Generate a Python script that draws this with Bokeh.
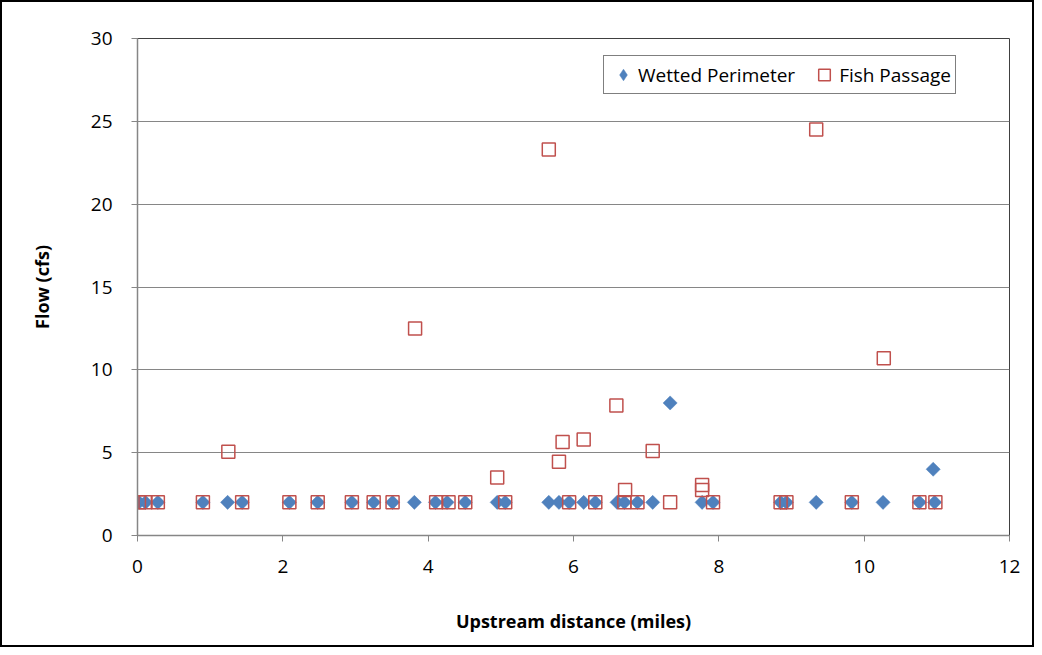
from bokeh.plotting import figure
from bokeh.models import Range1d, FixedTicker, Legend, LegendItem, ColumnDataSource
from bokeh.embed import file_html
from bokeh.resources import INLINE
import math

# Wetted Perimeter
wp_x = [0.02, 0.11, 0.28, 0.90, 1.24, 1.44, 2.09, 2.48, 2.95, 3.25, 3.51, 3.81,
        4.10, 4.26, 4.51, 4.95, 5.06, 5.66, 5.80, 5.94, 6.14, 6.30, 6.60, 6.70,
        6.88, 7.09, 7.33, 7.77, 7.92, 8.85, 8.93, 9.34, 9.83, 10.26, 10.76, 10.97, 10.95]
wp_y = [2, 2, 2, 2, 2, 2, 2, 2, 2, 2, 2, 2,
        2, 2, 2, 2, 2, 2, 2, 2, 2, 2, 2, 2,
        2, 2, 8, 2, 2, 2, 2, 2, 2, 2, 2, 2, 4]

# Fish Passage
fp_x = [0.02, 0.11, 0.28, 0.90, 1.25, 1.44, 2.09, 2.48, 2.95, 3.25, 3.51, 3.82,
        4.11, 4.28, 4.51, 4.95, 5.06, 5.66, 5.80, 5.85, 5.94, 6.14, 6.30, 6.59,
        6.70, 6.71, 6.88, 7.09, 7.33, 7.77, 7.77, 7.92, 8.85, 8.93, 9.34, 9.83,
        10.27, 10.76, 10.98]
fp_y = [2, 2, 2, 2, 5.05, 2, 2, 2, 2, 2, 2, 12.5,
        2, 2, 2, 3.5, 2, 23.3, 4.45, 5.65, 2, 5.8, 2, 7.85,
        2, 2.75, 2, 5.1, 2, 3.05, 2.75, 2, 2, 2, 24.5, 2,
        10.7, 2, 2]

x_ticks = [0, 2, 4, 6, 8, 10, 12]
y_ticks = [0, 5, 10, 15, 20, 25, 30]

FONT = "Open Sans"
GRID = "#868686"
BLUE = "#4f81bd"
RED = "#c0504d"

p = figure(width=1034, height=647, output_backend="svg", toolbar_location=None,
           x_range=Range1d(0, 12), y_range=Range1d(0, 30),
           min_border_left=135, min_border_right=27, min_border_top=36, min_border_bottom=114,
           styles={"border": "2px solid black"})

p.outline_line_color = "#404040"
p.outline_line_width = 1
p.xgrid.grid_line_color = None
p.ygrid.grid_line_color = GRID
p.ygrid.grid_line_width = 1

for ax in (p.xaxis[0], p.yaxis[0]):
    ax.axis_line_color = GRID
    ax.axis_line_width = 1.5
    ax.major_tick_line_color = GRID
    ax.major_tick_out = 6
    ax.major_tick_in = 0
    ax.minor_tick_line_color = None
    ax.major_label_text_font = FONT
    ax.major_label_text_font_size = "19px"
    ax.major_label_text_color = "black"
    ax.axis_label_text_font = FONT
    ax.axis_label_text_font_size = "18px"
    ax.axis_label_text_font_style = "bold"
    ax.axis_label_text_color = "black"

p.xaxis.ticker = FixedTicker(ticks=x_ticks)
p.yaxis.ticker = FixedTicker(ticks=y_ticks)
p.xaxis.axis_label = "Upstream distance (miles)"
p.yaxis.axis_label = "Flow (cfs)"
p.xaxis.major_label_standoff = 18
p.yaxis.major_label_standoff = 19
p.xaxis.axis_label_standoff = 33
p.yaxis.axis_label_standoff = 34

wp_src = ColumnDataSource(dict(x=wp_x, y=wp_y))
fp_src = ColumnDataSource(dict(x=fp_x, y=fp_y))

# key glyph for the legend (hidden underneath the rotated squares)
r1_key = p.scatter("x", "y", source=wp_src, marker="diamond", size=12,
                   fill_color=BLUE, line_color=BLUE, line_width=0.5)
r1 = p.scatter("x", "y", source=wp_src, marker="square", size=10, angle=math.pi / 4,
               fill_color=BLUE, line_color=BLUE, line_width=0.5)
r2 = p.scatter("x", "y", source=fp_src, marker="square", size=13,
               fill_color=None, line_color=RED, line_width=1.5)

legend = Legend(items=[LegendItem(label="Wetted Perimeter", renderers=[r1_key]),
                       LegendItem(label="Fish Passage", renderers=[r2])],
                orientation="horizontal", location=(466, 441))
legend.border_line_color = "black"
legend.border_line_width = 1
legend.label_text_font = FONT
legend.label_text_font_size = "19px"
legend.label_text_color = "black"
legend.padding = 4
legend.margin = 0
legend.spacing = 14
legend.glyph_width = 30
legend.glyph_height = 29
legend.label_standoff = 0
legend.background_fill_color = "white"
legend.background_fill_alpha = 1
p.add_layout(legend, "center")

open("out.html", "w").write(file_html(p, INLINE))
